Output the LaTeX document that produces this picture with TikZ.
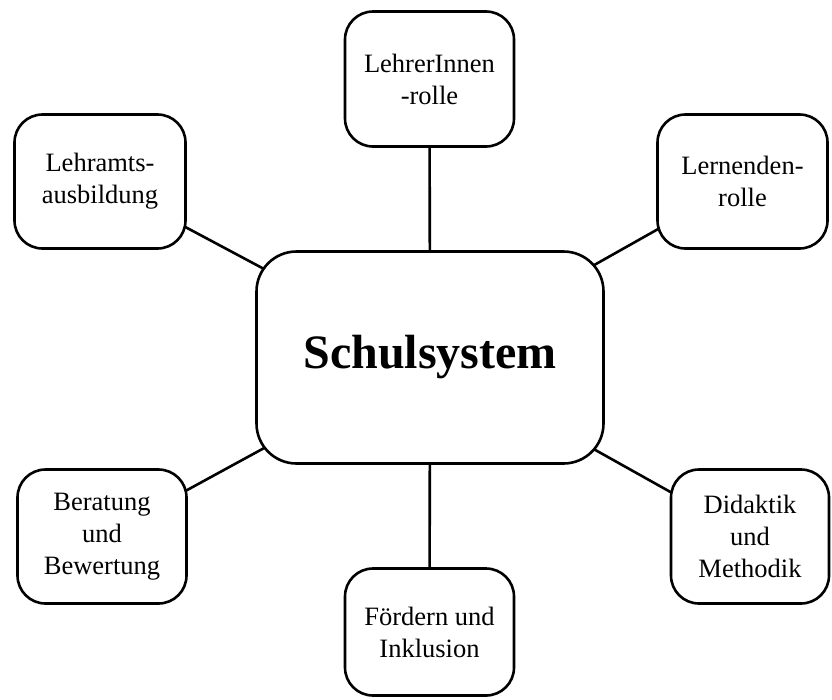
\documentclass[tikz,border=0pt]{standalone}
\usepackage{fontspec}
\setmainfont{Liberation Serif}
\usetikzlibrary{backgrounds}
\begin{document}
\begin{tikzpicture}[x=1pt,y=-1pt,
  box/.style={draw=black, line width=2.6pt, rounded corners=28pt, fill=white,
    align=center, inner sep=0pt, outer sep=0pt,
    font={\fontsize{26.5}{32}\selectfont}},
  link/.style={draw=black, line width=2.6pt}]
\useasboundingbox (0,0) rectangle (832,699);
\node[box, minimum width=347pt, minimum height=212pt, rounded corners=40pt,
      font={\bfseries\fontsize{48}{56}\selectfont}] (c) at (430,357.5) {Schulsystem};
\node[box, minimum width=169pt, minimum height=135pt] (t) at (429.5,79) {LehrerInnen\\-rolle};
\node[box, minimum width=171pt, minimum height=134pt] (tl) at (100,181.5) {Lehramts-\\ausbildung};
\node[box, minimum width=170pt, minimum height=134pt] (tr) at (742.5,181.5) {Lernenden-\\rolle};
\node[box, minimum width=169pt, minimum height=134pt] (bl) at (102,536.5) {Beratung\\und\\Bewertung};
\node[box, minimum width=169pt, minimum height=127pt] (b) at (429.5,632) {F\"ordern und\\Inklusion};
\node[box, minimum width=158pt, minimum height=134pt] (br) at (750,536.5) {Didaktik\\und\\Methodik};
\begin{pgfonlayer}{background}
\draw[link] (c.center) -- (t.center);
\draw[link] (c.center) -- (tl.center);
\draw[link] (c.center) -- (tr.center);
\draw[link] (c.center) -- (bl.center);
\draw[link] (c.center) -- (b.center);
\draw[link] (c.center) -- (br.center);
\end{pgfonlayer}
\end{tikzpicture}
\end{document}
